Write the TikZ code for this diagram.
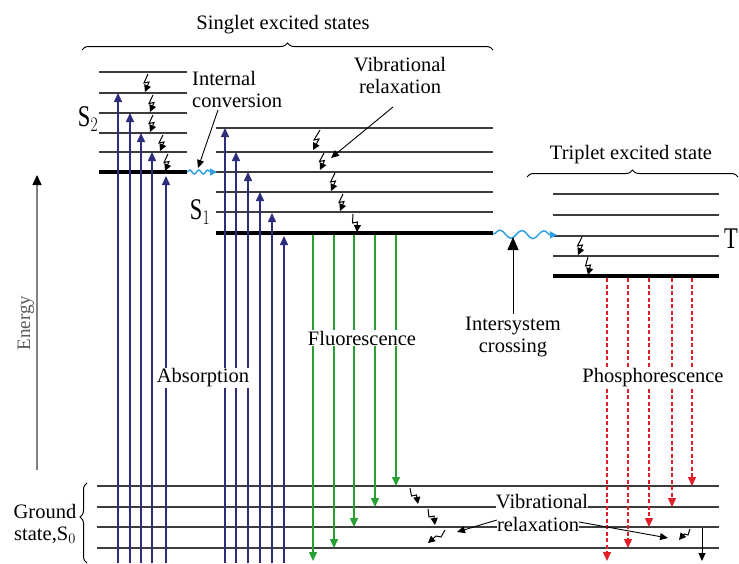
\documentclass[tikz,border=0pt]{standalone}
\usepackage{fontspec}
\setmainfont{Liberation Serif}
\usetikzlibrary{arrows.meta,decorations.pathmorphing,decorations.pathreplacing}
\definecolor{absc}{RGB}{45,45,125}
\definecolor{fluc}{RGB}{40,160,50}
\definecolor{phoc}{RGB}{225,30,40}
\definecolor{wavc}{RGB}{50,160,225}
\definecolor{levc}{RGB}{60,60,60}
\tikzset{
 level/.style={levc,line width=1.3pt},
 thicklevel/.style={black,line width=3.5pt},
 absarrow/.style={absc,line width=1.5pt,-{Triangle[length=9pt,width=8pt]}},
 fluarrow/.style={fluc,line width=1.4pt,-{Triangle[length=9pt,width=8pt]}},
 phoarrow/.style={phoc,line width=1.4pt,dash pattern=on 4pt off 2.5pt,-{Triangle[length=9pt,width=8pt]}},
 zig/.style={black,line width=1pt,-{Triangle[length=7pt,width=7pt]}},
 pointer/.style={black,line width=0.9pt,-{Triangle[length=8pt,width=7pt]}},
 wave/.style={wavc,line width=1.5pt,decorate,decoration={snake,amplitude=2pt,segment length=9pt,post length=3pt}},
 lbl/.style={font=\fontsize{20.5}{22}\selectfont,inner sep=1pt,align=center},
 big/.style={font=\fontsize{30}{30}\selectfont,xscale=0.75,inner sep=0pt},
 brc/.style={black,line width=1pt,decorate,decoration={brace,amplitude=7pt}},
}
\newcommand{\zz}[4]{\draw[zig] (#1,#2) -- ({(#1+#3)/2-2.5},{(#2+#4)/2}) -- ({(#1+#3)/2+2.5},{(#2+#4)/2-1}) -- (#3,#4);}
\begin{document}
\begin{tikzpicture}[x=1pt,y=-1pt]
\useasboundingbox (0,0) rectangle (739,563);
% braces and titles
\draw[brc] (82,50) -- (493,50);
\node[lbl] (singlet) at (283,25) {Singlet excited states};
\draw[brc] (527,177) -- (738,177);
\node[lbl] (triplet) at (631,155) {Triplet excited state};
\draw[brc,decoration={brace,amplitude=7pt,aspect=0.575}] (87,563) -- (87,483);
\node[lbl] (ground) at (45,524) {Ground\\state,S$_0$};
% energy axis
\coordinate (eb) at (37,470);
\coordinate (et) at (37,175);
\draw[gray,line width=1.5pt,-{Triangle[length=10pt,width=9pt,color=black]}] (eb) -- (et);
\node[font=\fontsize{19}{20}\selectfont,rotate=90,gray!70!black,inner sep=1pt] (energy) at (26,323) {Energy};
% S2 levels
\foreach \y in {72,93,113,133,152} \draw[level] (99,\y) -- (187,\y);
\draw[thicklevel] (99,172) -- (187,172);
\node[big] (s2) at (88,119) {S$_2$};
% S1 levels
\foreach \y in {128,152,172,192,212} \draw[level] (216,\y) -- (493,\y);
\draw[thicklevel] (216,233) -- (493,233);
\node[big] (s1) at (200,212) {S$_1$};
% T1 levels
\foreach \y in {194,215,236,256} \draw[level] (553,\y) -- (719,\y);
\draw[thicklevel] (553,276) -- (719,276);
\node[big,anchor=west] (t1) at (724,239) {T};
% ground levels
\foreach \y in {486,507,527,548} \draw[level] (97,\y) -- (719,\y);
% absorption
\foreach \x/\t in {118/93,130/113,141/133,152/152,166/176} \draw[absarrow] (\x,563) -- (\x,\t);
\foreach \x/\t in {225/128,236/152,248/172,260/192,272/213,284/236} \draw[absarrow] (\x,563) -- (\x,\t);
\node[lbl,fill=white] (abs) at (203,378) {Absorption};
% fluorescence
\foreach \x/\t in {313/561,334/548,354/527,375/507,396/486} \draw[fluarrow] (\x,235) -- (\x,\t);
\node[lbl,fill=white] (flu) at (362,338) {Fluorescence};
% phosphorescence
\foreach \x/\t in {607/561,628/548,649/527,672/507,692/486} \draw[phoarrow] (\x,278) -- (\x,\t);
\node[lbl,fill=white] (pho) at (653,378) {Phosphorescence};
% internal conversion
\coordinate (ica) at (187,172);
\coordinate (icb) at (217,172);
\draw[wave,-{Triangle[length=7pt,width=7pt]}] (ica) -- (icb);
\node[lbl,align=left,anchor=west] (ic) at (191,89) {Internal\\conversion};
\coordinate (icp) at (218,110);
\coordinate (ict) at (198,168);
\draw[pointer] (icp) -- (ict);
% intersystem crossing
\coordinate (isa) at (493,234);
\coordinate (isb) at (557,235);
\draw[wave,decoration={snake,amplitude=4pt,segment length=22pt,post length=3pt},-{Triangle[length=7pt,width=7pt]}] (isa) -- (isb);
\node[lbl] (isc) at (513,337) {Intersystem\\crossing};
\coordinate (isp) at (513,314);
\coordinate (ist) at (513,237);
\draw[black,line width=1pt,-{Triangle[length=13pt,width=11pt]}] (isp) -- (ist);
% vibrational relaxation (top)
\node[lbl] (vr) at (400,75) {Vibrational\\relaxation};
\coordinate (vrp) at (393,107);
\coordinate (vrt) at (331,158);
\draw[pointer] (vrp) -- (vrt);
% zigzags S2
\zz{148}{74}{145}{92}
\zz{153}{95}{150}{112}
\zz{153}{115}{150}{132}
\zz{163}{135}{160}{151}
\zz{168}{154}{165}{171}
% zigzags S1
\zz{320}{130}{313}{150}
\zz{324}{153}{320}{170}
\zz{335}{173}{331}{191}
\zz{343}{194}{340}{211}
\zz{353}{214}{357}{232}
% zigzags T1
\zz{582}{237}{578}{255}
\zz{588}{257}{588}{275}
% ground vibrational relaxation
\zz{410}{488}{418}{504}
\zz{428}{509}{435}{525}
\draw[zig] (445,530) -- (441,537) -- (436,536) -- (428,543);
\node[lbl,fill=white,inner sep=0pt] (gv1) at (542,502) {Vibrational};
\node[lbl,fill=white,inner sep=0pt] (gv2) at (538,524) {relaxation};
\coordinate (gvl) at (457,532);
\coordinate (gvr) at (668,538);
\draw[pointer] (gv2.west) ++(0,-4) -- (gvl);
\draw[pointer] (gv2.east) ++(0,-2) -- (gvr);
\draw[zig] (690,529) -- (688,535) -- (684,534) -- (679,540);
\coordinate (vda) at (702,528);
\coordinate (vdb) at (702,561);
\draw[pointer] (vda) -- (vdb);
\end{tikzpicture}
\end{document}
